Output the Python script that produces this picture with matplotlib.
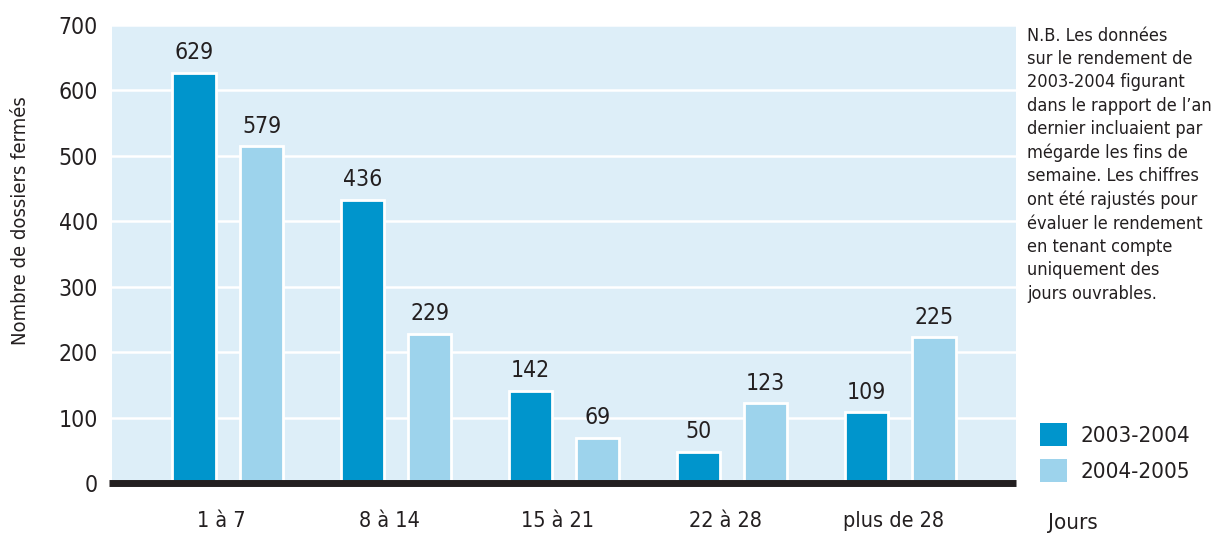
import numpy as np
import matplotlib as mpl
import matplotlib.pyplot as plt

# data
categories = ["1 à 7", "8 à 14", "15 à 21", "22 à 28", "plus de 28"]
series = ["2003-2004", "2004-2005"]
heights_0304 = [627, 433, 141, 48, 108]
heights_0405 = [515, 228, 69, 122, 223]
labels_0304 = ["629", "436", "142", "50", "109"]
labels_0405 = ["579", "229", "69", "123", "225"]
yticks = [0, 100, 200, 300, 400, 500, 600, 700]

note = ("N.B. Les données\nsur le rendement de\n2003-2004 figurant\n"
        "dans le rapport de l\u2019an\ndernier incluaient par\nmégarde les fins de\n"
        "semaine. Les chiffres\nont été rajustés pour\névaluer le rendement\n"
        "en tenant compte\nuniquement des\njours ouvrables.")

plt.rcParams['font.family'] = ['DejaVu Sans']
plt.rcParams['font.stretch'] = 'condensed'
txt = "#231f20"
dark = "#0095cc"
light = "#9dd3ec"
bg = "#ddeef8"

fig = plt.figure(figsize=(12.32, 5.37), dpi=100)
ax = fig.add_axes([0.0909, 0.1006, 0.7338, 0.8528])
ax.set_facecolor(bg)

x = np.arange(len(categories))
w = 0.26
b1 = ax.bar(x - 0.2, heights_0304, w, color=dark, edgecolor="white", linewidth=2, zorder=3, label=series[0])
b2 = ax.bar(x + 0.2, heights_0405, w, color=light, edgecolor="white", linewidth=2, zorder=3, label=series[1])

for bars, labs in ((b1, labels_0304), (b2, labels_0405)):
    for r, l in zip(bars, labs):
        ax.text(r.get_x() + r.get_width() / 2, r.get_height() + 13, l,
                ha="center", va="bottom", fontsize=16.5, color=txt)

ax.set_xlim(-0.69, 4.69)
ax.set_ylim(0, 700)
ax.set_yticks(yticks)
ax.yaxis.grid(True, color="white", linewidth=1.8, zorder=1)
ax.set_axisbelow(True)
for s in ax.spines.values():
    s.set_visible(False)
ax.axhline(0, color=txt, linewidth=5, zorder=5, xmin=-0.003, clip_on=False, solid_capstyle="butt")
ax.tick_params(axis="y", length=0, labelsize=16.5, colors=txt, pad=10)
ax.set_xticks(x - 0.04)
ax.set_xticklabels(categories)
ax.tick_params(axis="x", length=0, labelsize=15.5, colors=txt, pad=20)

fig.text(0.017, 0.59, "Nombre de dossiers fermés", rotation=90, ha="center", va="center",
         fontsize=14.5, color=txt)
fig.text(0.851, 0.027, "Jours", ha="left", va="center", fontsize=16, color=txt)
fig.text(0.834, 0.950, note, ha="left", va="top", fontsize=13, color=txt, linespacing=1.38)

leg = ax.legend(loc="upper left", bbox_to_anchor=(0.8445, 0.212), bbox_transform=fig.transFigure,
                frameon=False, fontsize=16, handlelength=1.2, handleheight=1.2,
                handletextpad=0.62, labelspacing=0.6, borderpad=0, borderaxespad=0)
for t in leg.get_texts():
    t.set_color(txt)
for h in leg.legend_handles:
    h.set_edgecolor("none")

fig.savefig("out.png", dpi=100)
